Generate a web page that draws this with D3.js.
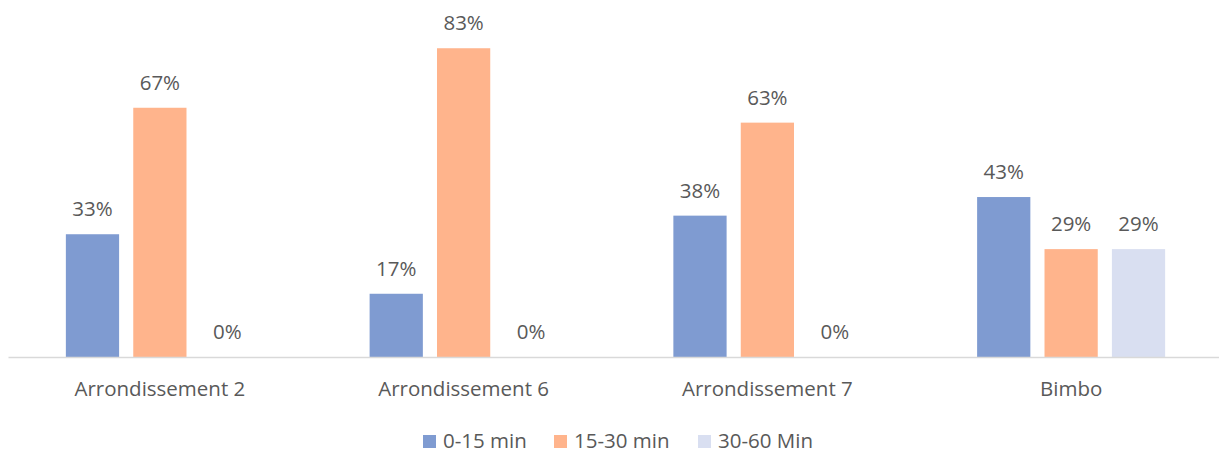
<!DOCTYPE html>
<html>
<head>
<meta charset="utf-8">
<script src="https://cdn.jsdelivr.net/npm/d3@7"></script>
<style>
  html, body { margin: 0; padding: 0; background: #fff; }
  svg { display: block; font-family: "Open Sans", sans-serif; }
</style>
</head>
<body>
<svg id="chart" width="1219" height="453"></svg>
<script>
// Travel-time shares per district (percent)
const categories = ["Arrondissement 2", "Arrondissement 6", "Arrondissement 7", "Bimbo"];
const seriesNames = ["0-15 min", "15-30 min", "30-60 Min"];
const values0to15 = [33, 17, 38, 43];
const values15to30 = [67, 83, 63, 29];
const values30to60 = [0, 0, 0, 29];
const seriesColors = ["#7F9BD1", "#FFB48C", "#D9DFF1"];

const seriesValues = [values0to15, values15to30, values30to60];
const rows = categories.map((c, i) => ({
  category: c,
  bars: seriesNames.map((s, j) => ({ series: s, value: seriesValues[j][i], color: seriesColors[j] }))
}));

const svg = d3.select("#chart");
const baseY = 357;
const textColor = "#595959";
const fontSize = "20.5px";

const x0 = d3.scaleBand()
  .domain(categories)
  .range([8, 1223])
  .paddingInner(0.381)
  .paddingOuter(0.1905);

const x1 = d3.scaleBand()
  .domain(seriesNames)
  .range([0, x0.bandwidth()])
  .paddingInner(0.21)
  .paddingOuter(0);

const y = d3.scaleLinear().domain([0, 90]).range([baseY, baseY - 334.8]);

// bars and value labels
const groups = svg.append("g").selectAll("g")
  .data(rows)
  .join("g")
  .attr("transform", d => `translate(${x0(d.category)},0)`);

groups.selectAll("rect")
  .data(d => d.bars)
  .join("rect")
  .attr("x", d => x1(d.series))
  .attr("y", d => y(d.value))
  .attr("width", x1.bandwidth())
  .attr("height", d => y(0) - y(d.value))
  .attr("fill", d => d.color);

groups.selectAll("text")
  .data(d => d.bars)
  .join("text")
  .attr("x", d => x1(d.series) + x1.bandwidth() / 2)
  .attr("y", d => y(d.value) - 18)
  .attr("text-anchor", "middle")
  .attr("fill", textColor)
  .style("font-size", fontSize)
  .text(d => d.value + "%");

// category axis
const axis = svg.append("g")
  .attr("transform", `translate(0,${baseY})`)
  .call(d3.axisBottom(x0).tickSize(0).tickSizeOuter(0));
axis.select(".domain").attr("stroke", "#D9D9D9").attr("stroke-width", 1.3);
axis.selectAll(".tick text")
  .attr("y", 39)
  .attr("dy", null)
  .attr("fill", textColor)
  .style("font-size", fontSize)
  .style("font-family", "\"Open Sans\", sans-serif");

// legend
const legendX = [423, 554, 698];
const legend = svg.append("g").selectAll("g")
  .data(seriesNames)
  .join("g")
  .attr("transform", (d, i) => `translate(${legendX[i]},435)`);
legend.append("rect")
  .attr("width", 13)
  .attr("height", 13)
  .attr("fill", (d, i) => seriesColors[i]);
legend.append("text")
  .attr("x", 20)
  .attr("y", 13)
  .attr("fill", textColor)
  .style("font-size", fontSize)
  .text(d => d);
</script>
</body>
</html>
